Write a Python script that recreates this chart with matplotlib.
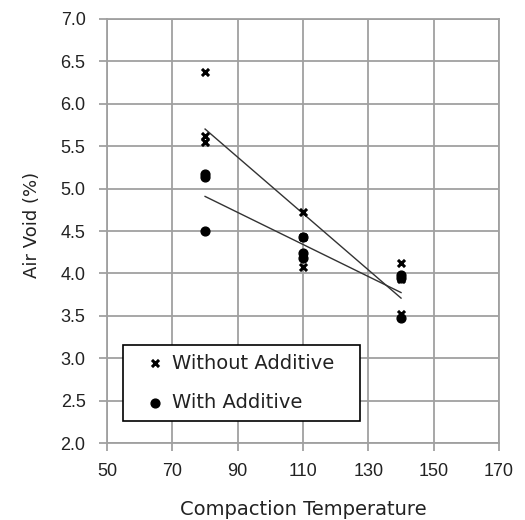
import numpy as np
import matplotlib.pyplot as plt
from matplotlib.patches import Rectangle

# compaction temperature vs air void
temp_without = [80, 80, 80, 110, 110, 110, 140, 140, 140]
void_without = [6.38, 5.62, 5.55, 4.72, 4.43, 4.08, 4.12, 3.93, 3.52]

temp_with = [80, 80, 80, 110, 110, 110, 140, 140, 140]
void_with = [5.17, 5.14, 4.50, 4.43, 4.24, 4.18, 3.98, 3.95, 3.48]

x_ticks = [50, 70, 90, 110, 130, 150, 170]
y_ticks = [2.0, 2.5, 3.0, 3.5, 4.0, 4.5, 5.0, 5.5, 6.0, 6.5, 7.0]

grid_col = '#a0a0a0'

fig = plt.figure(figsize=(5.25, 5.2), dpi=100)
ax = fig.add_axes([0.204, 0.148, 0.7465, 0.8155])

ax.scatter(temp_without, void_without, marker='x', s=26, c='black',
           linewidths=2.2, label='Without Additive', zorder=3)
ax.scatter(temp_with, void_with, marker='o', s=40, c='black',
           label='With Additive', zorder=3)

# linear trend lines over the data range
for tx, vy in [(temp_without, void_without), (temp_with, void_with)]:
    k, b = np.polyfit(tx, vy, 1)
    xs = np.array([min(tx), max(tx)])
    ax.plot(xs, k * xs + b, color='#333333', lw=1.0, zorder=2)

ax.set_xlim(50, 170)
ax.set_ylim(2.0, 7.0)
ax.set_xticks(x_ticks)
ax.set_yticks(y_ticks)
ax.set_yticklabels(['{:.1f}'.format(v) for v in y_ticks])
ax.grid(True, color=grid_col, lw=1.3)
ax.set_axisbelow(True)
for s in ax.spines.values():
    s.set_color(grid_col)
    s.set_linewidth(1.3)
ax.tick_params(direction='out', length=5.5, width=1.3, color=grid_col,
               labelsize=13, labelcolor='#222222')
ax.tick_params(axis='y', pad=10)
ax.tick_params(axis='x', pad=9)
for lab in ax.get_xticklabels() + ax.get_yticklabels():
    lab.set_family('Liberation Sans')

ax.set_xlabel('Compaction Temperature', fontsize=14, family='DejaVu Sans',
              labelpad=14, color='#222222')
ax.set_ylabel('Air Void (%)', fontsize=13, family='DejaVu Sans', color='#222222')
ax.yaxis.set_label_coords(-0.168, 0.515)

# legend box (Excel style, wide frame)
ax.add_patch(Rectangle((0.041, 0.052), 0.605, 0.179, transform=ax.transAxes,
                       facecolor='white', edgecolor='black', lw=1.2, zorder=4))
leg = ax.legend(loc='upper left', bbox_to_anchor=(0.088, 0.211), frameon=False,
                prop={'family': 'DejaVu Sans', 'size': 14},
                handletextpad=0.18, labelspacing=1.04, borderpad=0,
                handlelength=1.4, borderaxespad=0)
leg.set_zorder(5)
for t in leg.get_texts():
    t.set_color('#222222')

fig.savefig('out.png', dpi=100)
